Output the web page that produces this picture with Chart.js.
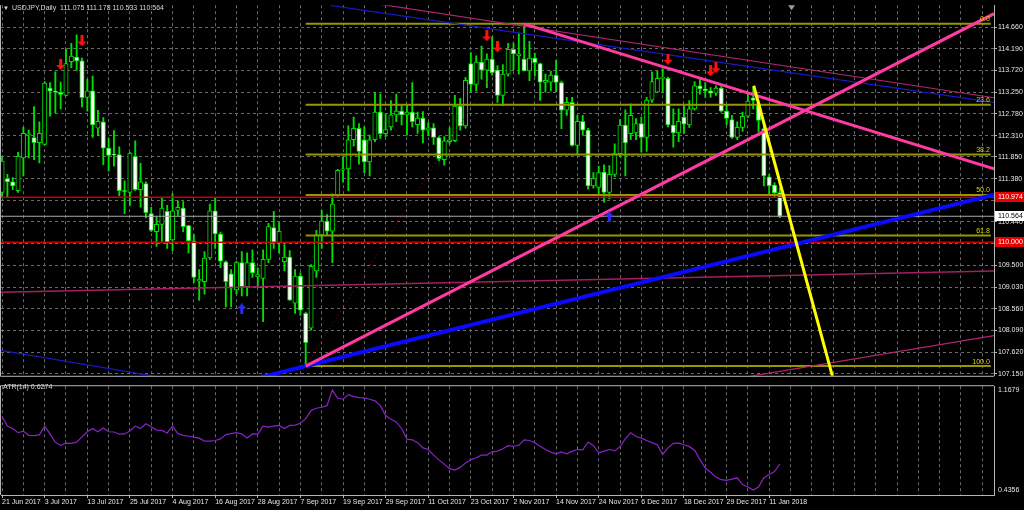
<!DOCTYPE html>
<html>
<head>
<meta charset="utf-8">
<script src="https://cdn.jsdelivr.net/npm/chart.js@4.4.1/dist/chart.umd.min.js"></script>
<style>
    html, body { margin: 0; padding: 0; background: #000; }
    #wrap { position: relative; width: 1024px; height: 510px; overflow: hidden; background: #000; font-family: "Liberation Sans", Arial, sans-serif; }
    #price { position: absolute; left: 0; top: 0; }
    #atr { position: absolute; left: 0; top: 381px; }
    .hdr { position: absolute; color: #d8d8d8; font-size: 7px; line-height: 8px; white-space: nowrap; }
    .hdr .tri { font-size: 6px; margin-right: 3px; }
</style>
</head>
<body>
<div id="wrap">
    <canvas id="price" width="1024" height="381"></canvas>
    <canvas id="atr" width="1024" height="129"></canvas>
    <div class="hdr" style="left:3px;top:4px"><span class="tri">▼</span>USDJPY,Daily&nbsp; 111.075 111.178 110.533 110.564</div>
    <div class="hdr" style="left:3px;top:383px">ATR(14) 0.6274</div>
</div>
<script>
// daily candles, bar 0 = 21 Jun 2017
const opens = [
    111.08, 111.38, 111.31, 111.12, 111.83, 112.33, 112.27, 112.16, 112.12, 113.34,
    113.26, 113.25, 113.18, 113.91, 114.01, 113.93, 113.14, 113.28, 112.47, 112.61,
    112.04, 111.91, 111.90, 111.11, 111.08, 111.86, 111.14, 111.27, 110.62, 110.23,
    110.39, 110.67, 110.05, 110.69, 110.74, 110.36, 110.03, 109.16, 109.15, 109.66,
    110.68, 110.18, 109.58, 109.32, 108.97, 109.56, 109.04, 109.56, 109.25, 109.22,
    109.63, 110.32, 109.98, 109.58, 109.68, 108.68, 109.27, 108.46, 108.14, 109.38,
    110.16, 110.46, 110.24, 111.02, 111.56, 111.59, 112.22, 112.47, 112.22, 111.74,
    112.22, 112.82, 112.35, 112.50, 112.76, 112.84, 112.76, 112.82, 112.55, 112.69,
    112.43, 112.48, 112.27, 111.79, 112.18, 112.20, 112.95, 112.52, 113.87, 113.42,
    113.90, 113.73, 113.97, 113.73, 113.18, 113.64, 114.18, 114.04, 113.97, 113.71,
    113.99, 113.87, 113.46, 113.47, 113.62, 113.46, 112.86, 113.03, 112.10, 112.62,
    112.43, 111.22, 111.19, 111.52, 111.08, 111.47, 111.92, 112.54, 112.35, 112.37,
    112.57, 112.27, 113.08, 113.25, 113.55, 113.55, 112.54, 112.37, 112.71, 112.54,
    112.89, 113.39, 113.32, 113.28, 113.23, 113.34, 112.84, 112.66, 112.27, 112.49,
    112.73, 113.13, 113.00, 112.46, 111.42, 111.24, 111.075
];
const highs = [
    111.85, 111.47, 111.40, 111.95, 112.49, 112.43, 112.94, 112.61, 113.48, 113.46,
    113.69, 113.47, 114.19, 114.31, 114.49, 113.99, 113.53, 113.60, 112.86, 112.70,
    112.25, 112.42, 112.07, 111.33, 111.95, 112.20, 111.71, 111.31, 110.76, 110.55,
    110.95, 110.80, 111.05, 110.90, 110.88, 110.37, 110.17, 109.41, 109.80, 110.83,
    110.97, 110.22, 109.60, 109.41, 109.59, 109.80, 109.77, 109.84, 109.45, 109.84,
    110.41, 110.67, 110.43, 109.95, 109.82, 109.41, 109.34, 108.49, 109.52, 110.26,
    110.69, 110.60, 111.05, 111.58, 111.85, 112.52, 112.71, 112.57, 112.50, 112.32,
    113.25, 113.21, 112.78, 113.07, 113.21, 112.96, 112.99, 113.46, 112.82, 112.83,
    112.59, 112.57, 112.29, 112.29, 112.48, 113.18, 113.12, 113.57, 114.11, 114.04,
    114.25, 114.08, 114.45, 113.83, 113.85, 114.31, 114.31, 114.52, 114.73, 114.35,
    114.10, 113.88, 113.64, 113.71, 113.94, 113.49, 113.14, 113.14, 112.75, 112.75,
    112.47, 111.51, 111.65, 111.68, 111.66, 112.13, 112.66, 112.87, 113.00, 112.68,
    112.71, 113.14, 113.69, 113.71, 113.76, 113.58, 112.89, 112.89, 112.96, 113.07,
    113.48, 113.55, 113.46, 113.35, 113.39, 113.37, 112.96, 112.75, 112.61, 112.82,
    113.21, 113.35, 113.07, 112.54, 111.47, 111.29, 111.178
];
const lows = [
    110.98, 110.97, 111.14, 111.08, 111.44, 111.83, 111.79, 111.72, 112.11, 112.73,
    112.80, 112.89, 113.17, 113.78, 113.72, 112.93, 112.84, 112.27, 112.31, 111.68,
    111.54, 111.65, 111.01, 110.62, 110.80, 111.12, 110.76, 110.53, 110.23, 109.91,
    110.02, 109.87, 109.82, 110.58, 110.23, 109.77, 109.13, 108.74, 108.88, 109.63,
    109.87, 109.45, 108.60, 108.60, 108.88, 108.84, 108.84, 109.24, 109.02, 108.28,
    109.56, 109.87, 109.77, 109.38, 108.74, 108.46, 108.42, 107.32, 108.10, 109.24,
    109.87, 110.16, 109.56, 110.98, 111.30, 111.12, 112.08, 111.69, 111.51, 111.44,
    112.18, 112.25, 112.29, 112.43, 112.61, 112.54, 112.32, 112.50, 112.36, 112.15,
    112.32, 112.12, 111.76, 111.67, 112.13, 112.18, 112.43, 112.47, 113.25, 113.28,
    113.53, 113.35, 113.62, 113.03, 112.96, 113.60, 113.74, 113.64, 113.71, 113.50,
    113.60, 113.07, 113.25, 113.28, 113.26, 112.46, 112.75, 112.08, 111.90, 112.32,
    111.15, 111.17, 111.01, 110.87, 110.94, 111.42, 111.85, 111.44, 112.22, 112.22,
    111.95, 111.97, 113.03, 113.25, 113.25, 112.50, 112.06, 112.18, 112.36, 112.49,
    112.86, 113.21, 113.14, 113.14, 113.18, 112.82, 112.54, 112.25, 112.22, 112.40,
    112.70, 112.89, 112.39, 111.22, 111.05, 110.98, 110.533
];
const closes = [
    111.76, 111.31, 111.22, 111.86, 112.36, 112.34, 112.16, 112.36, 113.45, 113.27,
    113.25, 113.20, 113.87, 114.03, 113.93, 113.13, 113.28, 112.54, 112.62, 112.04,
    111.88, 111.89, 111.12, 111.10, 111.93, 111.14, 111.31, 110.64, 110.26, 110.39,
    110.74, 110.00, 110.68, 110.76, 110.34, 110.03, 109.24, 109.20, 109.66, 110.68,
    110.18, 109.59, 109.15, 109.01, 109.56, 109.04, 109.56, 109.34, 109.30, 109.63,
    110.34, 109.98, 110.24, 109.68, 108.75, 109.27, 108.53, 107.83, 109.48, 110.16,
    110.46, 110.24, 110.83, 111.56, 111.59, 112.22, 112.47, 111.97, 111.74, 112.22,
    112.82, 112.35, 112.44, 112.76, 112.84, 112.76, 112.82, 112.61, 112.69, 112.43,
    112.48, 112.27, 111.81, 112.20, 112.22, 112.95, 112.52, 113.51, 113.42, 113.90,
    113.73, 113.97, 113.67, 113.18, 113.64, 114.18, 114.08, 114.08, 113.71, 113.99,
    113.89, 113.47, 113.51, 113.62, 113.46, 112.86, 113.03, 112.10, 112.62, 112.43,
    111.22, 111.38, 111.51, 111.08, 111.47, 111.92, 112.54, 112.15, 112.75, 112.57,
    112.27, 113.08, 113.48, 113.55, 113.55, 112.54, 112.37, 112.62, 112.56, 112.89,
    113.39, 113.32, 113.28, 113.23, 113.34, 112.84, 112.68, 112.27, 112.49, 112.73,
    113.06, 113.07, 112.64, 111.44, 111.22, 111.07, 110.564
];
const atrValues = [
    0.975, 0.904, 0.887, 0.856, 0.868, 0.837, 0.835, 0.840, 0.904, 0.847,
    0.785, 0.764, 0.780, 0.778, 0.787, 0.825, 0.863, 0.887, 0.863, 0.890,
    0.863, 0.861, 0.845, 0.847, 0.868, 0.904, 0.887, 0.921, 0.899, 0.875,
    0.873, 0.854, 0.904, 0.849, 0.837, 0.830, 0.823, 0.816, 0.795, 0.795,
    0.799, 0.811, 0.842, 0.849, 0.856, 0.847, 0.818, 0.847, 0.845, 0.904,
    0.897, 0.904, 0.909, 0.887, 0.909, 0.911, 0.925, 0.959, 1.018, 1.035,
    1.042, 1.054, 1.168, 1.108, 1.101, 1.135, 1.120, 1.113, 1.111, 1.101,
    1.089, 1.054, 0.982, 0.954, 0.935, 0.887, 0.809, 0.804, 0.783, 0.745,
    0.733, 0.692, 0.657, 0.626, 0.593, 0.583, 0.602, 0.635, 0.659, 0.673,
    0.692, 0.692, 0.716, 0.721, 0.738, 0.761, 0.757, 0.764, 0.804, 0.799,
    0.783, 0.757, 0.733, 0.714, 0.702, 0.716, 0.702, 0.719, 0.733, 0.730,
    0.788, 0.761, 0.709, 0.721, 0.733, 0.723, 0.754, 0.811, 0.856, 0.828,
    0.816, 0.799, 0.783, 0.768, 0.697, 0.745, 0.778, 0.780, 0.768, 0.754,
    0.728, 0.659, 0.597, 0.566, 0.531, 0.512, 0.507, 0.516, 0.526, 0.476,
    0.459, 0.436, 0.459, 0.526, 0.550, 0.571, 0.627
];

// one date label every 8 bars
const dateLabels = [
    '21 Jun 2017', '3 Jul 2017', '13 Jul 2017', '25 Jul 2017', '4 Aug 2017', '16 Aug 2017',
    '28 Aug 2017', '7 Sep 2017', '19 Sep 2017', '29 Sep 2017', '11 Oct 2017', '23 Oct 2017',
    '2 Nov 2017', '14 Nov 2017', '24 Nov 2017', '6 Dec 2017', '18 Dec 2017', '29 Dec 2017', '11 Jan 2018'
];
const priceTicks = [107.150, 107.620, 108.090, 108.560, 109.030, 109.500, 109.970, 110.440, 110.910,
    111.380, 111.850, 112.310, 112.780, 113.250, 113.720, 114.190, 114.660];
const atrTicks = [0.4356, 1.1679];

// fibonacci retracement 107.32 -> 114.73
const fibLevels = [114.73, 112.98, 111.90, 111.025, 110.15, 107.32];
const fibNames = ['0.0', '23.6', '38.2', '50.0', '61.8', '100.0'];
const fibSpan = [57, 185.6];
const alertLevels = [110.974, 110.000];
const bidPrice = 110.564;

// trend lines as [bar, price] pairs
const pinkRise = [[57, 107.32], [186.2, 114.95]];
const pinkFall = [[98, 114.73], [186.2, 111.59]];
const blueRise = [[45, 106.975], [186.2, 111.03]];
const yellowDrop = [[141.1, 113.39], [157, 106.62]];
const fibBase = [[57, 107.32], [98, 114.73]];
const thinPinkTop = [[70, 115.17], [186.2, 113.13]];
const thinBlueTop = [[61.6, 115.13], [186.2, 113.03]];
const thinBlueLow = [[-0.2, 107.66], [40, 106.88]];
const magentaFlat = [[-0.2, 108.917], [186.2, 109.38]];
const magentaLow = [[135, 106.995], [186.2, 107.98]];

// signal arrows
const downArrowBars = [11, 15, 91, 93, 125, 133, 134];
const downArrowPrices = [113.85, 114.36, 114.47, 114.23, 113.96, 113.71, 113.78];
const upArrowBars = [45, 114];
const upArrowPrices = [108.56, 110.55];

const FONT = '"Liberation Sans", Arial, sans-serif';
const X_MIN = -0.2, X_MAX = 186.2;
const CANDLE = '#00e000';
const GRID = '#6a6a6a';
const FRAME = '#b4b4b4';
const TEXT = '#e6e6e6';

const gridTicks = () => {
    const t = [];
    for (let v = 0; v <= 184; v += 4) t.push({ value: v });
    return t;
};

const toPoints = (pairs) => pairs.map(([x, y]) => ({ x, y }));

const lineSet = (pairs, color, width, order, extra) => Object.assign({
    type: 'line',
    data: toPoints(pairs),
    borderColor: color,
    borderWidth: width,
    pointRadius: 0,
    fill: false,
    tension: 0,
    clip: 0,
    order
}, extra || {});

const makeArrow = (color, up) => {
    const c = document.createElement('canvas');
    c.width = 9;
    c.height = 11;
    const g = c.getContext('2d');
    g.fillStyle = color;
    g.beginPath();
    if (up) {
        g.moveTo(4.5, 0); g.lineTo(9, 5); g.lineTo(6, 5); g.lineTo(6, 11);
        g.lineTo(3, 11); g.lineTo(3, 5); g.lineTo(0, 5);
    } else {
        g.moveTo(3, 0); g.lineTo(6, 0); g.lineTo(6, 6); g.lineTo(9, 6);
        g.lineTo(4.5, 11); g.lineTo(0, 6); g.lineTo(3, 6);
    }
    g.closePath();
    g.fill();
    return c;
};

const bars = opens.map((_, i) => i);

const priceDecor = {
    id: 'priceDecor',
    afterDraw(chart) {
        const { ctx, chartArea: a, scales: { x, y } } = chart;
        ctx.save();
        ctx.strokeStyle = FRAME;
        ctx.lineWidth = 1;
        ctx.beginPath();
        ctx.moveTo(0.5, a.top);
        ctx.lineTo(0.5, a.bottom + 0.5);
        ctx.lineTo(a.right, a.bottom + 0.5);
        ctx.stroke();

        ctx.font = `7px ${FONT}`;
        ctx.textAlign = 'right';
        ctx.textBaseline = 'bottom';
        ctx.fillStyle = '#d8d800';
        fibLevels.forEach((v, k) => {
            ctx.fillText(fibNames[k], x.getPixelForValue(fibSpan[1]) - 1, y.getPixelForValue(v) - 1);
        });

        ctx.textAlign = 'left';
        ctx.textBaseline = 'middle';
        const box = (v, bg, fg) => {
            const py = Math.round(y.getPixelForValue(v));
            ctx.fillStyle = bg;
            ctx.fillRect(a.right + 1, py - 5, 30, 10);
            ctx.fillStyle = fg;
            ctx.fillText(v.toFixed(3), a.right + 4, py + 0.5);
        };
        alertLevels.forEach(v => box(v, '#e80000', '#ffffff'));
        box(bidPrice, '#ffffff', '#000000');

        // chart shift marker
        const sx = x.getPixelForValue(148.2);
        ctx.fillStyle = '#9a9a9a';
        ctx.beginPath();
        ctx.moveTo(sx - 3.5, a.top);
        ctx.lineTo(sx + 3.5, a.top);
        ctx.lineTo(sx, a.top + 5);
        ctx.closePath();
        ctx.fill();
        ctx.restore();
    }
};

const atrDecor = {
    id: 'atrDecor',
    afterDraw(chart) {
        const { ctx, chartArea: a } = chart;
        ctx.save();
        ctx.strokeStyle = FRAME;
        ctx.lineWidth = 1;
        ctx.beginPath();
        ctx.moveTo(a.right, a.top - 0.5);
        ctx.lineTo(0.5, a.top - 0.5);
        ctx.lineTo(0.5, a.bottom);
        ctx.stroke();
        ctx.restore();
    }
};

const fibSets = fibLevels.map(v => lineSet([[fibSpan[0], v], [fibSpan[1], v]], '#969600', 2, 5));
const levelSets = alertLevels.map(v => lineSet([[X_MIN, v], [X_MAX, v]], '#c80000', 1.5, 4));

new Chart(document.getElementById('price'), {
    type: 'bar',
    data: {
        datasets: [
            {
                type: 'line',
                data: downArrowBars.map((b, k) => ({ x: b, y: downArrowPrices[k] })),
                showLine: false,
                pointStyle: makeArrow('#ff1010', false),
                pointRadius: 5,
                clip: 0,
                order: 0
            },
            {
                type: 'line',
                data: upArrowBars.map((b, k) => ({ x: b, y: upArrowPrices[k] })),
                showLine: false,
                pointStyle: makeArrow('#2a2aff', true),
                pointRadius: 5,
                clip: 0,
                order: 0
            },
            lineSet(yellowDrop, '#ffff00', 3, 1),
            lineSet(pinkRise, '#ff3aa2', 3, 1),
            lineSet(pinkFall, '#ff3aa2', 3, 1),
            lineSet(blueRise, '#0a0aff', 4, 2),
            lineSet(thinPinkTop, '#b3246e', 1.2, 3),
            lineSet(thinBlueTop, '#1818c8', 1.2, 3),
            lineSet(thinBlueLow, '#1818c8', 1.2, 3),
            lineSet(magentaFlat, '#a51e62', 1.5, 3),
            lineSet(magentaLow, '#b3246e', 1.2, 3),
            lineSet(fibBase, '#a00000', 1, 3, { borderDash: [1, 3] }),
            ...levelSets,
            lineSet([[X_MIN, bidPrice], [X_MAX, bidPrice]], '#a8a8a8', 1, 4),
            ...fibSets,
            {
                type: 'bar',
                data: bars.map(i => ({ x: i, y: [opens[i], closes[i]] })),
                backgroundColor: (c) => closes[c.dataIndex] >= opens[c.dataIndex] ? '#000000' : '#ffffff',
                borderColor: CANDLE,
                borderWidth: 1,
                borderSkipped: false,
                barThickness: 4.4,
                minBarLength: 1,
                grouped: false,
                order: 9
            },
            {
                type: 'bar',
                data: bars.map(i => ({ x: i, y: [lows[i], highs[i]] })),
                backgroundColor: CANDLE,
                borderWidth: 0,
                barThickness: 1.2,
                grouped: false,
                order: 10
            }
        ]
    },
    options: {
        responsive: false,
        animation: false,
        events: [],
        layout: { autoPadding: false, padding: { left: 1, top: 3, right: 0, bottom: 1 } },
        plugins: { legend: { display: false }, tooltip: { enabled: false } },
        scales: {
            x: {
                type: 'linear',
                min: X_MIN,
                max: X_MAX,
                offset: false,
                afterBuildTicks: (ax) => { ax.ticks = gridTicks(); },
                afterFit: (ax) => { ax.height = 0; },
                ticks: { display: false, autoSkip: false },
                grid: { color: GRID, offset: false, drawTicks: false },
                border: { display: false, dash: [3, 3] }
            },
            y: {
                position: 'right',
                min: 107.11,
                max: 115.134,
                afterBuildTicks: (ax) => { ax.ticks = priceTicks.map(v => ({ value: v })); },
                afterFit: (ax) => { ax.width = 30; },
                ticks: {
                    autoSkip: false,
                    padding: 1,
                    color: TEXT,
                    font: { family: FONT, size: 7 },
                    callback: (v) => v.toFixed(3)
                },
                grid: { color: GRID, tickLength: 3, tickColor: FRAME },
                border: { display: true, color: FRAME, dash: [3, 3] }
            }
        }
    },
    plugins: [priceDecor]
});

new Chart(document.getElementById('atr'), {
    type: 'line',
    data: {
        datasets: [{
            data: bars.map(i => ({ x: i, y: atrValues[i] })),
            borderColor: '#8a22cc',
            borderWidth: 1.2,
            pointRadius: 0,
            tension: 0,
            fill: false
        }]
    },
    options: {
        responsive: false,
        animation: false,
        events: [],
        layout: { autoPadding: false, padding: { left: 1, top: 2, right: 0, bottom: 0 } },
        plugins: { legend: { display: false }, tooltip: { enabled: false } },
        scales: {
            x: {
                type: 'linear',
                min: X_MIN,
                max: X_MAX,
                offset: false,
                afterBuildTicks: (ax) => { ax.ticks = gridTicks(); },
                afterFit: (ax) => { ax.height = 15; },
                ticks: {
                    autoSkip: false,
                    maxRotation: 0,
                    align: 'start',
                    padding: 0,
                    color: TEXT,
                    font: { family: FONT, size: 7 },
                    callback: (v) => (v % 8 === 0 && dateLabels[v / 8]) ? dateLabels[v / 8] : ''
                },
                grid: {
                    color: GRID,
                    offset: false,
                    tickLength: 3,
                    tickColor: (c) => (c.tick && c.tick.value % 8 === 0 && dateLabels[c.tick.value / 8]) ? FRAME : 'rgba(0,0,0,0)'
                },
                border: { display: true, color: FRAME, dash: [3, 3] }
            },
            y: {
                position: 'right',
                min: 0.4001,
                max: 1.1963,
                afterBuildTicks: (ax) => { ax.ticks = atrTicks.map(v => ({ value: v })); },
                afterFit: (ax) => { ax.width = 30; },
                ticks: {
                    autoSkip: false,
                    padding: 1,
                    color: TEXT,
                    font: { family: FONT, size: 7 },
                    callback: (v) => v.toFixed(4)
                },
                grid: { display: false, tickLength: 3 },
                border: { display: true, color: FRAME }
            }
        }
    },
    plugins: [atrDecor]
});
</script>
</body>
</html>
